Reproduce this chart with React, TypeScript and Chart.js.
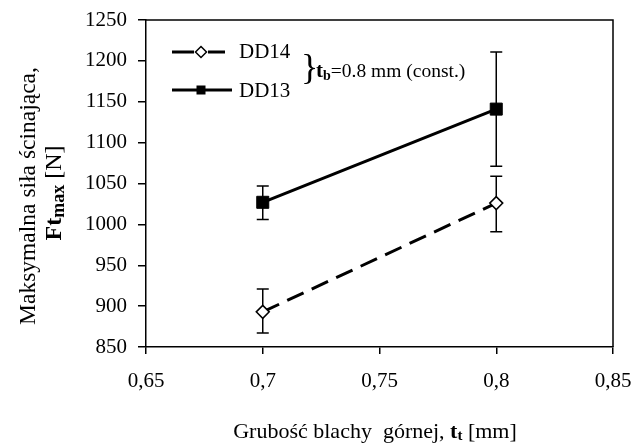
import React, { useEffect, useRef } from "react";
import { Chart, registerables } from "chart.js";

Chart.register(...registerables);

const thickness = [0.7, 0.8];
const dd14 = [893, 1026];
const dd14Low = [867, 991];
const dd14High = [921, 1059];
const dd13 = [1027, 1141];
const dd13Low = [1006, 1071];
const dd13High = [1047, 1211];
const xTicks = [0.65, 0.7, 0.75, 0.8, 0.85];
const yTicks = [850, 900, 950, 1000, 1050, 1100, 1150, 1200, 1250];

const FONT = "'Liberation Serif', 'Times New Roman', serif";

type Run = { t: string; size: number; bold?: boolean; dy?: number };

function drawRuns(ctx: CanvasRenderingContext2D, runs: Run[], x: number, y: number, align: "left" | "center") {
  ctx.textBaseline = "middle";
  ctx.textAlign = "left";
  const widths = runs.map((r) => {
    ctx.font = `${r.bold ? "bold " : ""}${r.size}px ${FONT}`;
    return ctx.measureText(r.t).width;
  });
  const total = widths.reduce((a, b) => a + b, 0);
  let cx = align === "center" ? x - total / 2 : x;
  runs.forEach((r, i) => {
    ctx.font = `${r.bold ? "bold " : ""}${r.size}px ${FONT}`;
    ctx.fillText(r.t, cx, y + (r.dy || 0));
    cx += widths[i];
  });
}

const errorBarPlugin = {
  id: "errorBars",
  beforeDatasetsDraw(chart: any) {
    const ctx = chart.ctx as CanvasRenderingContext2D;
    const xs = chart.scales.x;
    const ys = chart.scales.y;
    const sets = [
      [dd14Low, dd14High],
      [dd13Low, dd13High],
    ];
    ctx.save();
    ctx.strokeStyle = "#000";
    ctx.lineWidth = 1.5;
    sets.forEach(([lo, hi]) => {
      thickness.forEach((t, i) => {
        const px = xs.getPixelForValue(t);
        const y1 = ys.getPixelForValue(lo[i]);
        const y2 = ys.getPixelForValue(hi[i]);
        ctx.beginPath();
        ctx.moveTo(px, y1);
        ctx.lineTo(px, y2);
        ctx.moveTo(px - 6, y1);
        ctx.lineTo(px + 6, y1);
        ctx.moveTo(px - 6, y2);
        ctx.lineTo(px + 6, y2);
        ctx.stroke();
      });
    });
    ctx.restore();
  },
};

const decorPlugin = {
  id: "decor",
  afterDraw(chart: any) {
    const ctx = chart.ctx as CanvasRenderingContext2D;
    const a = chart.chartArea;
    ctx.save();
    // frame top/right
    ctx.strokeStyle = "#000";
    ctx.lineWidth = 1.5;
    ctx.beginPath();
    ctx.moveTo(a.left, a.top);
    ctx.lineTo(a.right, a.top);
    ctx.lineTo(a.right, a.bottom);
    ctx.stroke();

    ctx.fillStyle = "#000";
    // x title
    drawRuns(
      ctx,
      [
        { t: "Grubość blachy  górnej, ", size: 22 },
        { t: "t", size: 22, bold: true },
        { t: "t", size: 15, bold: true, dy: 4 },
        { t: " [mm]", size: 22 },
      ],
      375,
      432,
      "center"
    );
    // y title
    ctx.save();
    ctx.translate(29, 196);
    ctx.rotate(-Math.PI / 2);
    drawRuns(ctx, [{ t: "Maksymalna siła ścinająca,", size: 23.5 }], 0, 0, "center");
    ctx.restore();
    ctx.save();
    ctx.translate(55, 193);
    ctx.rotate(-Math.PI / 2);
    drawRuns(
      ctx,
      [
        { t: "Ft", size: 24, bold: true },
        { t: "max", size: 18, bold: true, dy: 4 },
        { t: " [N]", size: 24 },
      ],
      0,
      0,
      "center"
    );
    ctx.restore();

    // legend
    ctx.lineWidth = 3;
    ctx.beginPath();
    ctx.moveTo(172, 52);
    ctx.lineTo(194, 52);
    ctx.moveTo(208, 52);
    ctx.lineTo(225, 52);
    ctx.moveTo(172, 90);
    ctx.lineTo(232, 90);
    ctx.stroke();
    // diamond
    ctx.lineWidth = 1.5;
    ctx.fillStyle = "#fff";
    ctx.beginPath();
    ctx.moveTo(201, 46.5);
    ctx.lineTo(206.5, 52);
    ctx.lineTo(201, 57.5);
    ctx.lineTo(195.5, 52);
    ctx.closePath();
    ctx.fill();
    ctx.stroke();
    ctx.fillStyle = "#000";
    ctx.fillRect(196.5, 85.5, 9, 9);

    drawRuns(ctx, [{ t: "DD14", size: 21 }], 239, 52, "left");
    drawRuns(ctx, [{ t: "DD13", size: 21 }], 239, 91, "left");
    drawRuns(ctx, [{ t: "}", size: 36 }], 301, 70, "left");
    drawRuns(
      ctx,
      [
        { t: "t", size: 21, bold: true },
        { t: "b", size: 14, bold: true, dy: 4 },
        { t: "=0.8 mm (const.)", size: 19.5 },
      ],
      316,
      72,
      "left"
    );
    ctx.restore();
  },
};

export default function App() {
  const ref = useRef<HTMLCanvasElement | null>(null);
  useEffect(() => {
    if (!ref.current) return;
    const chart = new Chart(ref.current, {
      type: "line",
      data: {
        datasets: [
          {
            label: "DD14",
            data: thickness.map((x, i) => ({ x, y: dd14[i] })),
            borderColor: "#000",
            borderWidth: 3,
            borderDash: [18, 9],
            pointStyle: "rectRot",
            pointRadius: 6.5,
            pointBackgroundColor: "#fff",
            pointBorderColor: "#000",
            pointBorderWidth: 1.5,
          },
          {
            label: "DD13",
            data: thickness.map((x, i) => ({ x, y: dd13[i] })),
            borderColor: "#000",
            borderWidth: 3,
            pointStyle: "rect",
            pointRadius: 8.5,
            pointBackgroundColor: "#000",
            pointBorderColor: "#000",
            pointBorderWidth: 1,
          },
        ],
      },
      options: {
        animation: false,
        responsive: false,
        devicePixelRatio: 1,
        layout: { padding: { top: 20, right: 22, left: 0, bottom: 0 } },
        plugins: { legend: { display: false }, tooltip: { enabled: false } },
        scales: {
          x: {
            type: "linear",
            min: 0.65,
            max: 0.85,
            afterBuildTicks: (s: any) => {
              s.ticks = xTicks.map((v) => ({ value: v }));
            },
            afterFit: (s: any) => {
              s.height = 99;
              s.paddingLeft = 0;
              s.paddingRight = 0;
            },
            ticks: {
              color: "#000",
              padding: 15,
              maxRotation: 0,
              font: { family: FONT, size: 21 },
              callback: (v: any) => String(Number(Number(v).toFixed(2))).replace(".", ","),
            },
            grid: { drawOnChartArea: false, drawTicks: true, tickLength: 7, color: "#000", lineWidth: 1.5 },
            border: { display: true, color: "#000", width: 1.5 },
          },
          y: {
            min: 850,
            max: 1250,
            afterBuildTicks: (s: any) => {
              s.ticks = yTicks.map((v) => ({ value: v }));
            },
            afterFit: (s: any) => {
              s.width = 146;
              s.paddingTop = 0;
              s.paddingBottom = 0;
            },
            ticks: {
              color: "#000",
              padding: 11,
              font: { family: FONT, size: 21 },
              callback: (v: any) => String(v),
            },
            grid: { drawOnChartArea: false, drawTicks: true, tickLength: 8, color: "#000", lineWidth: 1.5 },
            border: { display: true, color: "#000", width: 1.5 },
          },
        },
      },
      plugins: [errorBarPlugin, decorPlugin],
    } as any);
    return () => chart.destroy();
  }, []);
  return (
    <div style={{ position: "absolute", left: 0, top: 0, width: 635, height: 446, background: "#fff" }}>
      <canvas ref={ref} width={635} height={446} style={{ width: 635, height: 446, display: "block" }} />
    </div>
  );
}
